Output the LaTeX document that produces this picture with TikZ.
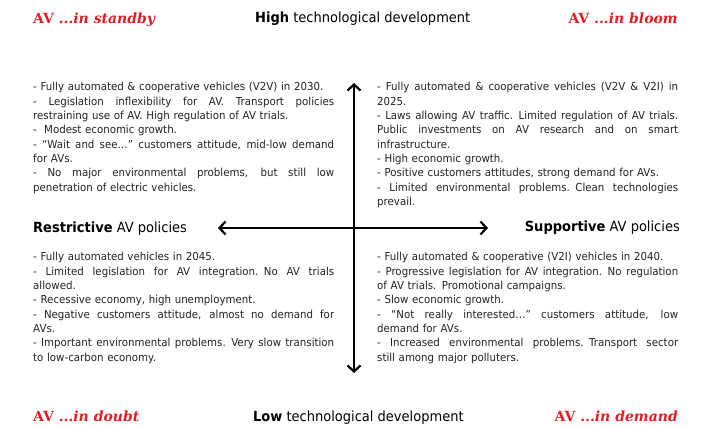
\documentclass[tikz,border=0pt]{standalone}
\usepackage{fontspec}
\setmainfont{DejaVu Sans}[FakeStretch=0.93]
\newfontfamily\redfont{DejaVu Serif}
\usetikzlibrary{arrows.meta}
\definecolor{avred}{RGB}{222,32,38}
\definecolor{txt}{RGB}{35,35,35}
\newcommand\jl[1]{\makebox[301pt][s]{\spaceskip=\fontdimen2\font plus 1fil\relax #1}}
\tikzset{
  body/.style={anchor=base west, text width=301pt, align=left, inner sep=0pt,
    font=\fontsize{11}{14.3}\selectfont, text=txt},
  axislab/.style={inner sep=0pt, font=\fontsize{14}{16}\selectfont, text=black},
  scen/.style={inner sep=0pt, font=\redfont\fontsize{14}{16}\selectfont, text=avred},
  axisarrow/.style={line width=2.2pt,
    arrows={Straight Barb[length=6pt,width=13pt]-Straight Barb[length=6pt,width=13pt]}}
}
\begin{document}
\begin{tikzpicture}[x=1pt,y=-1pt]
\useasboundingbox[fill=white] (0,0) rectangle (709,427);
% scenario titles
\node[scen, anchor=base west] (standby) at (33,24) {\bfseries AV \itshape ...in standby};
\node[scen, anchor=base east] (bloom) at (678,24) {\bfseries AV \itshape ...in bloom};
\node[scen, anchor=base west] (doubt) at (33,421) {\bfseries AV \itshape ...in doubt};
\node[scen, anchor=base east] (demand) at (678,421) {\bfseries AV \itshape ...in demand};
% axis labels
\node[axislab, anchor=base west] (high) at (255,23) {\textbf{High} technological development};
\node[axislab, anchor=base west] (low) at (253,421) {\textbf{Low} technological development};
\node[axislab, anchor=base west] (restr) at (33,233) {\textbf{Restrictive} AV policies};
\node[axislab, anchor=base east] (supp) at (680,232) {\textbf{Supportive} AV policies};
% axes
\coordinate (top) at (354,83);
\coordinate (bot) at (354,373);
\coordinate (lft) at (218,228);
\coordinate (rgt) at (488,228);
\draw[axisarrow] (bot) -- (top);
\draw[axisarrow] (lft) -- (rgt);
% quadrant texts
\node[body] (tl) at (33,91) {%
- Fully automated \& cooperative vehicles (V2V) in 2030.\\
\jl{- Legislation inflexibility for AV. Transport policies}\\
restraining use of AV. High regulation of AV trials.\\
- \ Modest economic growth.\\
\jl{- “Wait and see…” customers attitude, mid-low demand}\\
for AVs.\\
\jl{- No major environmental problems, but still low}\\
penetration of electric vehicles.};
\node[body] (tr) at (377,91) {%
\jl{- Fully automated \& cooperative vehicles (V2V \& V2I) in}\\
2025.\\
\jl{- Laws allowing AV traffic. Limited regulation of AV trials.}\\
\jl{Public investments on AV research and on smart}\\
infrastructure.\\
- High economic growth.\\
- Positive customers attitudes, strong demand for AVs.\\
\jl{- Limited environmental problems. Clean technologies}\\
prevail.};
\node[body] (bl) at (33,261) {%
- Fully automated vehicles in 2045.\\
\jl{- Limited legislation for AV integration. No AV trials}\\
allowed.\\
- Recessive economy, high unemployment.\\
\jl{- Negative customers attitude, almost no demand for}\\
AVs.\\
\jl{- Important environmental problems. Very slow transition}\\
to low-carbon economy.};
\node[body] (br) at (377,261) {%
- Fully automated \& cooperative (V2I) vehicles in 2040.\\
\jl{- Progressive legislation for AV integration. No regulation}\\
of AV trials. Promotional campaigns.\\
- Slow economic growth.\\
\jl{- “Not really interested…” customers attitude, low}\\
demand for AVs.\\
\jl{- Increased environmental problems. Transport sector}\\
still among major polluters.};
\end{tikzpicture}
\end{document}
